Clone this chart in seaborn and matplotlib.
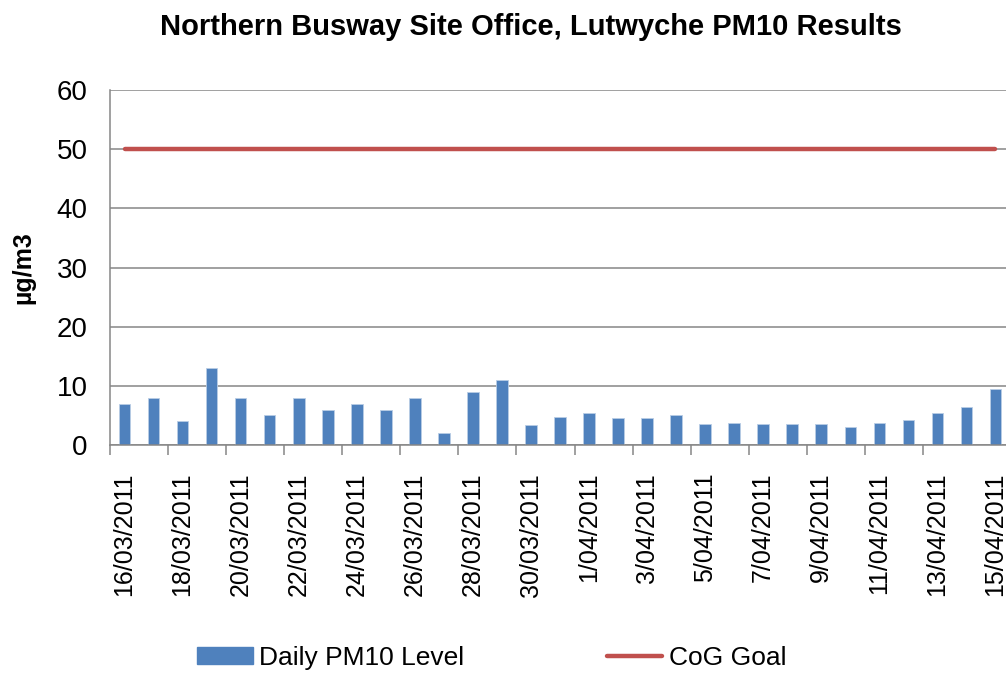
import matplotlib
matplotlib.use("Agg")
import matplotlib.pyplot as plt
import seaborn as sns
from matplotlib.lines import Line2D
from matplotlib.patches import Patch

dates = ["16/03/2011", "17/03/2011", "18/03/2011", "19/03/2011", "20/03/2011",
         "21/03/2011", "22/03/2011", "23/03/2011", "24/03/2011", "25/03/2011",
         "26/03/2011", "27/03/2011", "28/03/2011", "29/03/2011", "30/03/2011",
         "31/03/2011", "1/04/2011", "2/04/2011", "3/04/2011", "4/04/2011",
         "5/04/2011", "6/04/2011", "7/04/2011", "8/04/2011", "9/04/2011",
         "10/04/2011", "11/04/2011", "12/04/2011", "13/04/2011", "14/04/2011",
         "15/04/2011"]
pm10 = [7, 8, 4, 13, 8, 5, 8, 6, 7, 6, 8, 2, 9, 11, 3.3,
        4.8, 5.4, 4.6, 4.6, 5.0, 3.6, 3.7, 3.5, 3.5, 3.5,
        3.0, 3.8, 4.2, 5.4, 6.4, 9.5]
goal = [50] * len(dates)
yticks = [0, 10, 20, 30, 40, 50, 60]

BLUE = "#4F81BD"
RED = "#C0504D"
GRID = "#868686"

sns.set_theme(style="white")
plt.rcParams["font.family"] = ["Liberation Sans", "DejaVu Sans"]
plt.rcParams.update({"text.color": "black", "axes.labelcolor": "black",
                     "xtick.color": "black", "ytick.color": "black"})

fig = plt.figure(figsize=(10.06, 6.75), dpi=100)
W, H = 1006, 675
ax = fig.add_axes([110 / W, 1 - 445 / H, 900 / W, 355 / H])

sns.barplot(x=dates, y=pm10, order=dates, color=BLUE, saturation=1,
            width=0.4, edgecolor="#B9CDE5", linewidth=0.6, ax=ax, zorder=2)
sns.lineplot(x=list(range(len(dates))), y=goal, color=RED, linewidth=3.2,
             ax=ax, zorder=3)

ax.set_xlim(-0.5, len(dates) - 0.5)
ax.set_ylim(0, 60)
ax.set_yticks(yticks)
ax.set_yticklabels([str(v) for v in yticks], fontsize=20)
ax.yaxis.grid(True, color=GRID, linewidth=1.1)
ax.set_axisbelow(True)
ax.tick_params(axis="y", length=0, pad=16, labelcolor="black")

major = list(range(0, len(dates), 2))
ax.set_xticks(major)
ax.set_xticklabels([dates[i] for i in major], rotation=90, fontsize=18,
                   va="top", ha="center")
ax.set_xticks([i - 0.5 for i in range(0, len(dates) - 1, 2)], minor=True)
ax.tick_params(axis="x", which="major", length=0, pad=20, labelcolor="black")
ax.tick_params(axis="x", which="minor", length=7, width=1.1, color=GRID,
               direction="out", bottom=True)

for s in ["top", "right"]:
    ax.spines[s].set_visible(False)
for s in ["left", "bottom"]:
    ax.spines[s].set_color(GRID)
    ax.spines[s].set_linewidth(1.1)

ax.set_xlabel("")
ax.set_ylabel("µg/m3", fontsize=18, fontweight="bold", ha="center", va="center",
              color="black")
ax.yaxis.set_label_coords(-0.096, 0.5)

fig.text(531 / W, 1 - 27 / H, "Northern Busway Site Office, Lutwyche PM10 Results",
         ha="center", va="center", fontsize=21, fontweight="bold", color="black")

handles = [Patch(facecolor=BLUE, edgecolor=BLUE),
           Line2D([0], [0], color=RED, linewidth=3.2)]
leg = fig.legend(handles, ["Daily PM10 Level", "CoG Goal"], loc="center",
                 bbox_to_anchor=(492 / W, 1 - 658 / H), ncol=2, frameon=False,
                 fontsize=19, handlelength=2.1, handleheight=0.6,
                 handletextpad=0.25, columnspacing=5.4)
for t in leg.get_texts():
    t.set_color("black")

fig.savefig("out.png", dpi=100)
